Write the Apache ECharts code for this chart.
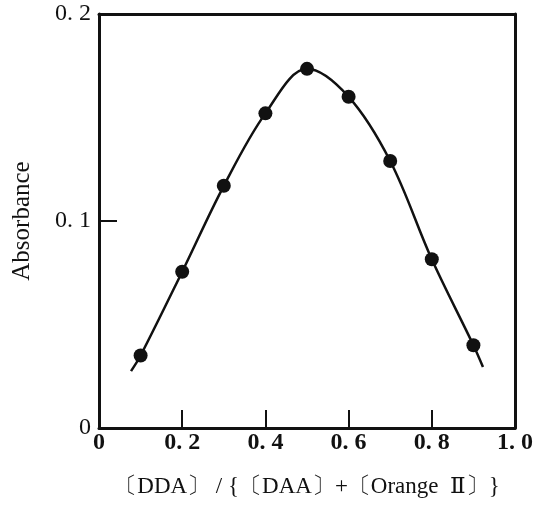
<!DOCTYPE html>
<html>
<head>
<meta charset="utf-8">
<script src="https://cdn.jsdelivr.net/npm/echarts@6/dist/echarts.min.js"></script>
<style>
  html, body { margin: 0; padding: 0; background: #fff; }
  #chart { width: 536px; height: 512px; }
</style>
</head>
<body>
<div id="chart"></div>
<script>
// Mole fraction of DDA and measured absorbance (continuous variation plot)
const moleFraction = [0.1, 0.2, 0.3, 0.4, 0.5, 0.6, 0.7, 0.8, 0.9];
const absorbance = [0.035, 0.0755, 0.117, 0.152, 0.1735, 0.160, 0.129, 0.0815, 0.040];

// Hand-drawn fitted curve through the measurements
const curveX = [0.077, 0.1, 0.2, 0.3, 0.4, 0.5, 0.6, 0.7, 0.8, 0.9, 0.923];
const curveY = [0.0275, 0.035, 0.0755, 0.117, 0.152, 0.1735, 0.160, 0.129, 0.0815, 0.040, 0.0295];

const xTicks = ['0', '0. 2', '0. 4', '0. 6', '0. 8', '1. 0'];
const yTicks = { 0: '0', 0.1: '0. 1', 0.2: '0. 2' };

const serif = '"Liberation Serif", "DejaVu Serif", serif';
const ink = '#111';

// Plain top and right border lines closing the frame
const frameAxis = {
  type: 'value',
  axisLine: { show: true, onZero: false, lineStyle: { color: ink, width: 3 } },
  axisTick: { show: false }, axisLabel: { show: false }, splitLine: { show: false }
};

const chart = echarts.init(document.getElementById('chart'));
chart.setOption({
  animation: false,
  backgroundColor: '#fff',
  grid: { left: 99, right: 20, top: 14, bottom: 84 },
  xAxis: [{
    type: 'value', min: 0, max: 1, interval: 0.2,
    name: '〔DDA〕 / {〔DAA〕+〔Orange  Ⅱ〕}',
    nameLocation: 'middle', nameGap: 47,
    nameTextStyle: { fontFamily: serif, fontSize: 23, color: ink },
    axisLine: { show: true, onZero: false, lineStyle: { color: ink, width: 3 } },
    axisTick: { inside: true, length: 18, lineStyle: { color: ink, width: 2 } },
    axisLabel: {
      margin: 3, fontFamily: serif, fontSize: 24, color: ink, fontWeight: 'bold',
      formatter: (v) => xTicks[Math.round(v * 5)]
    },
    splitLine: { show: false }
  }, Object.assign({ min: 0, max: 1, position: 'top' }, frameAxis)],
  yAxis: [{
    type: 'value', min: 0, max: 0.2, interval: 0.1,
    name: 'Absorbance',
    nameLocation: 'middle', nameGap: 64,
    nameTextStyle: { fontFamily: serif, fontSize: 25, color: ink },
    axisLine: { show: true, onZero: false, lineStyle: { color: ink, width: 3 } },
    axisTick: { inside: true, length: 18, lineStyle: { color: ink, width: 2 } },
    axisLabel: {
      margin: 8, fontFamily: serif, fontSize: 24, color: ink,
      formatter: (v) => yTicks[Math.round(v * 10) / 10]
    },
    splitLine: { show: false }
  }, Object.assign({ min: 0, max: 0.2, position: 'right' }, frameAxis)],
  series: [{
    type: 'line',
    data: curveX.map((x, i) => [x, curveY[i]]),
    smooth: 0.35,
    showSymbol: false,
    lineStyle: { color: ink, width: 2.5 },
    z: 2
  }, {
    type: 'scatter',
    data: moleFraction.map((x, i) => [x, absorbance[i]]),
    symbol: 'circle',
    symbolSize: 14,
    itemStyle: { color: ink, opacity: 1 },
    z: 3
  }]
});
</script>
</body>
</html>
